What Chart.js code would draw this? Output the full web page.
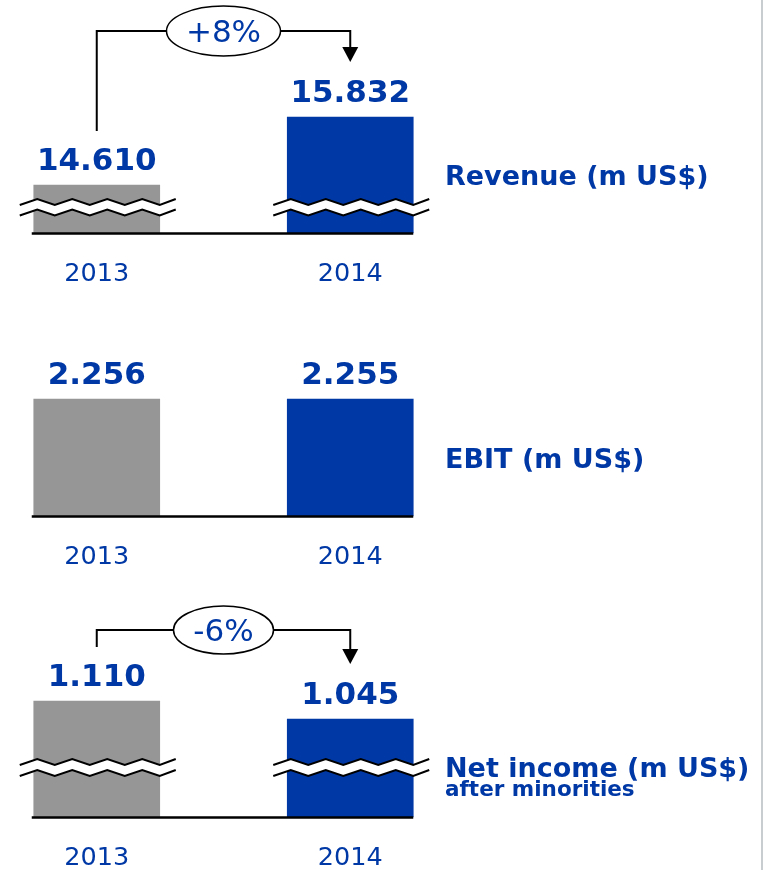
<!DOCTYPE html>
<html lang="en">
<head>
    <meta charset="UTF-8">
    <title>Revenue, EBIT and Net income 2013 - 2014</title>
    <script src="https://cdn.jsdelivr.net/npm/chart.js"></script>
    <style>
        * {
            margin: 0;
            padding: 0;
            box-sizing: border-box;
        }

        body {
            width: 763px;
            height: 870px;
            background: #fff;
            position: relative;
            overflow: hidden;
        }

        canvas {
            position: absolute;
            left: 0;
            top: 0;
        }

        /* thin grey border on the right edge of the slide */
        .edge {
            position: absolute;
            left: 761px;
            top: 0;
            width: 2px;
            height: 870px;
            background: #c8cdd0;
        }
    </style>
</head>
<body>

    <canvas id="revenueChart" width="763" height="870"></canvas>
    <canvas id="ebitChart" width="763" height="870"></canvas>
    <canvas id="netChart" width="763" height="870"></canvas>
    <div class="edge"></div>

    <script>
        // data
        var years = ['2013', '2014'];
        var revenue = [14610, 15832];
        var ebit = [2256, 2255];
        var netIncome = [1110, 1045];

        var revenueTitle = ['Revenue (m US$)'];
        var ebitTitle = ['EBIT (m US$)'];
        var netTitle = ['Net income (m US$)', 'after minorities'];

        var BLUE = '#0039a6';
        var GRAY = '#969696';
        var FONT = "'DejaVu Sans', Verdana, sans-serif";

        // 14610 -> "14.610"
        function fmt(v) {
            return String(v).replace(/\B(?=(\d{3})+(?!\d))/g, '.');
        }

        function zigzag(x0, x1, y) {
            var pts = [];
            var i = 0;
            for (var x = x0; x < x1; x += 17.5, i++) {
                pts.push([x, y + (i % 2 ? -3 : 3)]);
            }
            pts.push([x1, y + (i % 2 ? -3 : 3)]);
            return pts;
        }

        function trace(ctx, pts, start) {
            pts.forEach(function (p, i) {
                if (i === 0 && start) ctx.moveTo(p[0], p[1]);
                else ctx.lineTo(p[0], p[1]);
            });
        }

        // axis break drawn across a bar
        function drawBreak(ctx, x0, x1, yTop, yBot) {
            var a = zigzag(x0, x1, yTop);
            var b = zigzag(x0, x1, yBot);
            ctx.beginPath();
            trace(ctx, a, true);
            trace(ctx, b.slice().reverse(), false);
            ctx.closePath();
            ctx.fillStyle = '#fff';
            ctx.fill();
            ctx.strokeStyle = '#000';
            ctx.lineWidth = 2;
            [a, b].forEach(function (p) {
                ctx.beginPath();
                trace(ctx, p, true);
                ctx.stroke();
            });
        }

        var panelDecor = {
            id: 'panelDecor',
            afterDatasetsDraw: function (chart, args, o) {
                var ctx = chart.ctx;
                var bars = chart.getDatasetMeta(0).data;
                var vals = chart.data.datasets[0].data;
                var base = chart.chartArea.bottom;
                var first = bars[0], last = bars[bars.length - 1];
                ctx.save();

                if (o.breakY) {
                    bars.forEach(function (b) {
                        drawBreak(ctx, b.x - b.width / 2 - 14, b.x + b.width / 2 + 16, o.breakY[0], o.breakY[1]);
                    });
                }

                // baseline
                ctx.strokeStyle = '#000';
                ctx.lineWidth = 2.5;
                ctx.beginPath();
                ctx.moveTo(first.x - first.width / 2 - 2, base + 0.5);
                ctx.lineTo(last.x + last.width / 2, base + 0.5);
                ctx.stroke();

                // value labels
                ctx.fillStyle = BLUE;
                ctx.font = 'bold 31px ' + FONT;
                ctx.textAlign = 'center';
                ctx.textBaseline = 'alphabetic';
                bars.forEach(function (b, i) {
                    ctx.fillText(fmt(vals[i]), b.x, b.y - 15);
                });

                // panel title
                ctx.textAlign = 'left';
                o.title.forEach(function (t, i) {
                    ctx.font = 'bold ' + o.titleSize[i] + 'px ' + FONT;
                    ctx.fillText(t, 445, o.titleY[i]);
                });

                // change arrow with ellipse
                if (o.arrowY != null) {
                    var yh = o.arrowY;
                    var y0 = first.y - 54;
                    var tip = last.y - 55;
                    var cx = (first.x + last.x) / 2;
                    ctx.strokeStyle = '#000';
                    ctx.lineWidth = 2;
                    ctx.beginPath();
                    ctx.moveTo(first.x, y0);
                    ctx.lineTo(first.x, yh);
                    ctx.lineTo(last.x, yh);
                    ctx.lineTo(last.x, tip - 14);
                    ctx.stroke();
                    ctx.fillStyle = '#000';
                    ctx.beginPath();
                    ctx.moveTo(last.x - 8, tip - 15);
                    ctx.lineTo(last.x + 8, tip - 15);
                    ctx.lineTo(last.x, tip);
                    ctx.closePath();
                    ctx.fill();

                    ctx.beginPath();
                    ctx.ellipse(cx, yh, o.ellipse[0], o.ellipse[1], 0, 0, Math.PI * 2);
                    ctx.fillStyle = '#fff';
                    ctx.fill();
                    ctx.lineWidth = 1.5;
                    ctx.stroke();

                    var pct = Math.round((vals[1] / vals[0] - 1) * 100);
                    ctx.fillStyle = BLUE;
                    ctx.font = '31px ' + FONT;
                    ctx.textAlign = 'center';
                    ctx.fillText((pct > 0 ? '+' : '') + pct + '%', cx, yh + 11);
                }
                ctx.restore();
            }
        };

        function makePanel(id, values, yMin, yMax, top, bottom, decor) {
            return new Chart(document.getElementById(id), {
                type: 'bar',
                data: {
                    labels: years,
                    datasets: [{
                        data: values,
                        backgroundColor: [GRAY, BLUE],
                        barThickness: 126,
                        base: yMin,
                        clip: false
                    }]
                },
                options: {
                    responsive: false,
                    animation: false,
                    events: [],
                    layout: {
                        padding: { left: 96.75, right: 412.75, top: top, bottom: 870 - bottom - 50 }
                    },
                    plugins: {
                        legend: { display: false },
                        tooltip: { enabled: false },
                        panelDecor: decor
                    },
                    scales: {
                        x: {
                            offset: false,
                            grid: { display: false, drawTicks: false },
                            border: { display: false },
                            ticks: {
                                color: BLUE,
                                font: { family: FONT, size: 25.5 },
                                padding: 26,
                                maxRotation: 0,
                                autoSkip: false
                            },
                            afterFit: function (s) { s.height = 50; }
                        },
                        y: { display: false, min: yMin, max: yMax }
                    }
                },
                plugins: [panelDecor]
            });
        }

        // Revenue (broken axis)
        makePanel('revenueChart', revenue, 13747, 16137, 100, 233, {
            title: revenueTitle, titleY: [185], titleSize: [27],
            breakY: [202, 212.5], arrowY: 31, ellipse: [57, 25]
        });

        // EBIT
        makePanel('ebitChart', ebit, 0, 2622, 380, 516, {
            title: ebitTitle, titleY: [468], titleSize: [27],
            breakY: null, arrowY: null
        });

        // Net income (broken axis)
        makePanel('netChart', netIncome, 691, 1150, 690, 817, {
            title: netTitle, titleY: [777, 796], titleSize: [27, 21.5],
            breakY: [762, 773], arrowY: 630, ellipse: [50, 24]
        });
    </script>

</body>
</html>
